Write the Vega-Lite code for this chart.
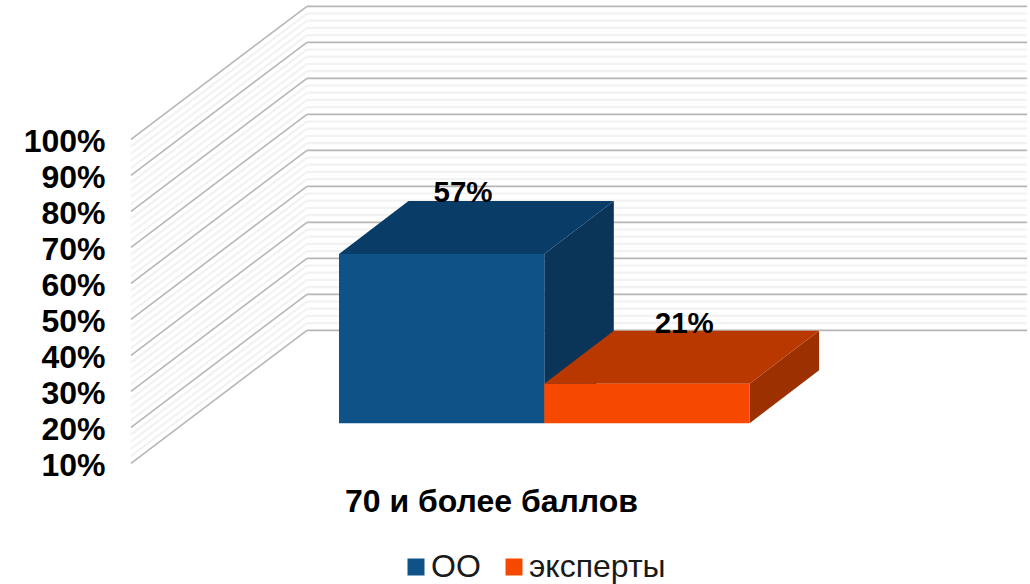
{"$schema":"https://vega.github.io/schema/vega-lite/v6.json","width":1030,"height":584,"autosize":{"type":"none"},"padding":0,"background":"white","config":{"view":{"stroke":null},"font":"Liberation Sans"},"resolve":{"axis":{"x":"independent","y":"independent"}},
"datasets":{
"bars":[{"series":"ОО","value":0.57,"start":0,"end":1},{"series":"эксперты","value":0.21,"start":1,"end":2}],
"faces":[
{"series":"ОО","face":"top","x":0,"x2":1,"y":0.57,"y2":0.57},{"series":"ОО","face":"top","x":0.3385,"x2":1.3385,"y":0.7172,"y2":0.7172},
{"series":"ОО","face":"side","x":1,"x2":1,"y":0.57,"y2":0.1},{"series":"ОО","face":"side","x":1.3385,"x2":1.3385,"y":0.7172,"y2":0.2472},
{"series":"эксперты","face":"top","x":1,"x2":2,"y":0.21,"y2":0.21},{"series":"эксперты","face":"top","x":1.3385,"x2":2.3385,"y":0.3572,"y2":0.3572},
{"series":"эксперты","face":"side","x":2,"x2":2,"y":0.21,"y2":0.1},{"series":"эксперты","face":"side","x":2.3385,"x2":2.3385,"y":0.3572,"y2":0.2472}],
"major":[{"tick":0.1},{"tick":0.2},{"tick":0.3},{"tick":0.4},{"tick":0.5},{"tick":0.6},{"tick":0.7},{"tick":0.8},{"tick":0.9},{"tick":1.0}],
"minor":[{"tick":0.12},{"tick":0.14},{"tick":0.16},{"tick":0.18},{"tick":0.22},{"tick":0.24},{"tick":0.26},{"tick":0.28},{"tick":0.32},{"tick":0.34},{"tick":0.36},{"tick":0.38},{"tick":0.42},{"tick":0.44},{"tick":0.46},{"tick":0.48},{"tick":0.52},{"tick":0.54},{"tick":0.56},{"tick":0.58},{"tick":0.62},{"tick":0.64},{"tick":0.66},{"tick":0.68},{"tick":0.72},{"tick":0.74},{"tick":0.76},{"tick":0.78},{"tick":0.82},{"tick":0.84},{"tick":0.86},{"tick":0.88},{"tick":0.92},{"tick":0.94},{"tick":0.96},{"tick":0.98}]},
"layer":[
{"data":{"name":"minor"},"mark":{"type":"rule","stroke":"#f2f2f2","strokeWidth":2.2,"yOffset":40,"y2Offset":-93},
 "encoding":{"x":{"datum":-1.0132,"type":"quantitative","scale":{"domain":[-1.65124,3.36581],"nice":false,"zero":false},"axis":null},"x2":{"datum":-0.1559},"y":{"field":"tick","type":"quantitative","scale":{"domain":[-0.34639,1.27583],"nice":false,"zero":false},"axis":null},"y2":{"field":"tick"}}},
{"data":{"name":"minor"},"mark":{"type":"rule","stroke":"#f2f2f2","strokeWidth":2.2,"yOffset":-93,"y2Offset":-93},
 "encoding":{"x":{"datum":-0.1559,"type":"quantitative","axis":null},"x2":{"datum":3.3513},"y":{"field":"tick","type":"quantitative","axis":null},"y2":{"field":"tick"}}},
{"data":{"name":"major"},"mark":{"type":"rule","stroke":"#b6b6b6","strokeWidth":1.6,"yOffset":40,"y2Offset":-93},
 "encoding":{"x":{"datum":-1.0132,"type":"quantitative","axis":null},"x2":{"datum":-0.1559},"y":{"field":"tick","type":"quantitative","axis":null},"y2":{"field":"tick"}}},
{"data":{"name":"major"},"mark":{"type":"rule","stroke":"#b6b6b6","strokeWidth":1.8,"yOffset":-93,"y2Offset":-93},
 "encoding":{"x":{"datum":-0.1559,"type":"quantitative","axis":null},"x2":{"datum":3.3513},"y":{"field":"tick","type":"quantitative","axis":null},"y2":{"field":"tick"}}},
{"data":{"name":"faces"},"transform":[{"filter":"datum.face=='side'"}],"mark":{"type":"area","orient":"vertical"},
 "encoding":{"x":{"field":"x","type":"quantitative","axis":null},"y":{"field":"y","type":"quantitative","axis":null,"stack":null},"y2":{"field":"y2"},"detail":{"field":"series"},"fill":{"condition":{"test":"datum.series=='ОО'","value":"#0a3558"},"value":"#9c3000"}}},
{"data":{"name":"faces"},"transform":[{"filter":"datum.face=='top'"}],"mark":{"type":"area","orient":"horizontal"},
 "encoding":{"y":{"field":"y","type":"quantitative","axis":null},"x":{"field":"x","type":"quantitative","axis":null,"stack":null},"x2":{"field":"x2"},"detail":{"field":"series"},"fill":{"condition":{"test":"datum.series=='ОО'","value":"#0a3c68"},"value":"#b93800"}}},
{"data":{"name":"bars"},"mark":{"type":"bar"},
 "encoding":{"x":{"field":"start","type":"quantitative","axis":{"title":"70 и более баллов","titleFont":"Liberation Sans","titleFontSize":32,"titleFontWeight":"bold","titleColor":"#000000","titleX":491,"titleY":-72.3,"titleAlign":"center","titleBaseline":"alphabetic","labels":false,"ticks":false,"domain":false,"grid":false}},"x2":{"field":"end"},
 "y":{"field":"value","type":"quantitative","axis":{"title":null,"orient":"left","offset":-105,"values":[0.1,0.2,0.3,0.4,0.5,0.6,0.7,0.8,0.9,1.0],"format":".0%","labelFont":"Liberation Sans","labelFontSize":32,"labelFontWeight":"bold","labelColor":"#000000","labelOffset":42,"labelPadding":0,"labelOverlap":false,"labelFlush":false,"labelBaseline":"middle","ticks":false,"domain":false,"grid":false}},"y2":{"datum":0.1},
 "color":{"field":"series","type":"nominal","scale":{"domain":["ОО","эксперты"],"range":["#0f5287","#f74800"]},"legend":{"title":null,"orient":"none","legendX":400,"legendY":551,"direction":"horizontal","columns":2,"padding":0,"symbolType":"square","symbolSize":289,"symbolStrokeWidth":0,"labelFont":"Liberation Sans","labelFontSize":32,"labelColor":"#1a1a1a","labelOffset":-1,"columnPadding":17}}}},
{"data":{"name":"bars"},"transform":[{"filter":"datum.series=='ОО'"}],"mark":{"type":"text","fontSize":29.5,"fontWeight":"bold","font":"Liberation Sans","color":"#000000","align":"center","baseline":"middle","xOffset":124,"yOffset":-61},
 "encoding":{"x":{"field":"start","type":"quantitative","axis":null},"y":{"field":"value","type":"quantitative","axis":null},"text":{"field":"value","type":"quantitative","format":".0%"}}},
{"data":{"name":"bars"},"transform":[{"filter":"datum.series=='эксперты'"}],"mark":{"type":"text","fontSize":29.5,"fontWeight":"bold","font":"Liberation Sans","color":"#000000","align":"center","baseline":"middle","xOffset":140,"yOffset":-60},
 "encoding":{"x":{"field":"start","type":"quantitative","axis":null},"y":{"field":"value","type":"quantitative","axis":null},"text":{"field":"value","type":"quantitative","format":".0%"}}}
]}
